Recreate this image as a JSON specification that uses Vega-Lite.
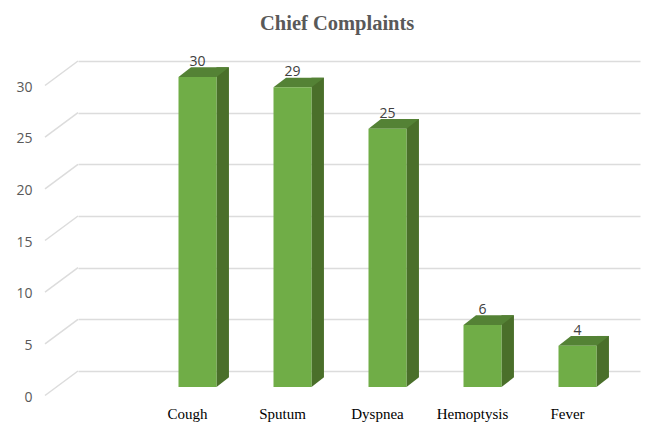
{
"$schema":"https://vega.github.io/schema/vega-lite/v6.json",
"width":562,"height":310,
"autosize":{"type":"none"},
"padding":{"left":78,"top":61,"right":6,"bottom":52},
"background":"white",
"title":{"text":"Chief Complaints","font":"Liberation Serif","fontSize":20.5,"fontWeight":"bold","color":"#595959","anchor":"start","dx":244,"offset":21},
"datasets":{
"bars":[{"name":"Cough","count":30},{"name":"Sputum","count":29},{"name":"Dyspnea","count":25},{"name":"Hemoptysis","count":6},{"name":"Fever","count":4}],
"ticks":[{"t":0},{"t":5},{"t":10},{"t":15},{"t":20},{"t":25},{"t":30}]
},
"data":{"name":"bars"},
"config":{"view":{"stroke":null}},
"encoding":{
"x":{"field":"name","type":"nominal","sort":null,"scale":{"domain":["Cough","Sputum","Dyspnea","Hemoptysis","Fever"],"paddingInner":0,"paddingOuter":0.4579,"align":0.8276},
"axis":{"title":null,"domain":false,"ticks":false,"grid":false,"labelAngle":0,"labelFont":"Liberation Serif","labelFontSize":15,"labelColor":"#000000","labelPadding":35,"labelOffset":-10}},
"y":{"field":"count","type":"quantitative","stack":null,"scale":{"domain":[0,30],"nice":false},
"axis":{"title":null,"values":[0,5,10,15,20,25,30],"domain":false,"ticks":false,"grid":true,"gridColor":"#dcdcdc","gridWidth":1.5,"labelFont":"Open Sans","labelFontSize":14,"labelColor":"#595959","labelPadding":46,"labelOffset":26}}
},
"layer":[
{"data":{"name":"ticks"},"mark":{"type":"point","shape":"M-33,24.5L0,0","size":4,"filled":false,"stroke":"#dcdcdc","strokeWidth":1.5,"opacity":1},
"encoding":{"x":{"value":0},"y":{"field":"t","type":"quantitative"}}},
{"mark":{"type":"bar","size":12.5,"xOffset":25.2,"yOffset":6.3,"y2Offset":16,"color":"#4a6f2a"},"encoding":{"y2":{"datum":0}}},
{"mark":{"type":"point","shape":"M-19,0L19,0L31.5,-9.7L-6.5,-9.7Z","size":4,"filled":true,"fill":"#548235","strokeWidth":0,"opacity":1,"yOffset":16}},
{"mark":{"type":"point","shape":"M19,0L31.5,0L31.5,-9.7Z","size":4,"filled":true,"fill":"white","strokeWidth":0,"opacity":1,"yOffset":16},
"encoding":{"y":{"datum":0}}},
{"mark":{"type":"bar","size":38,"yOffset":16,"y2Offset":16,"color":"#70ad47"},"encoding":{"y2":{"datum":0}}},
{"mark":{"type":"text","font":"Open Sans","fontSize":14,"color":"#404040","baseline":"middle","yOffset":1},
"encoding":{"text":{"field":"count","type":"quantitative"}}}
]
}
